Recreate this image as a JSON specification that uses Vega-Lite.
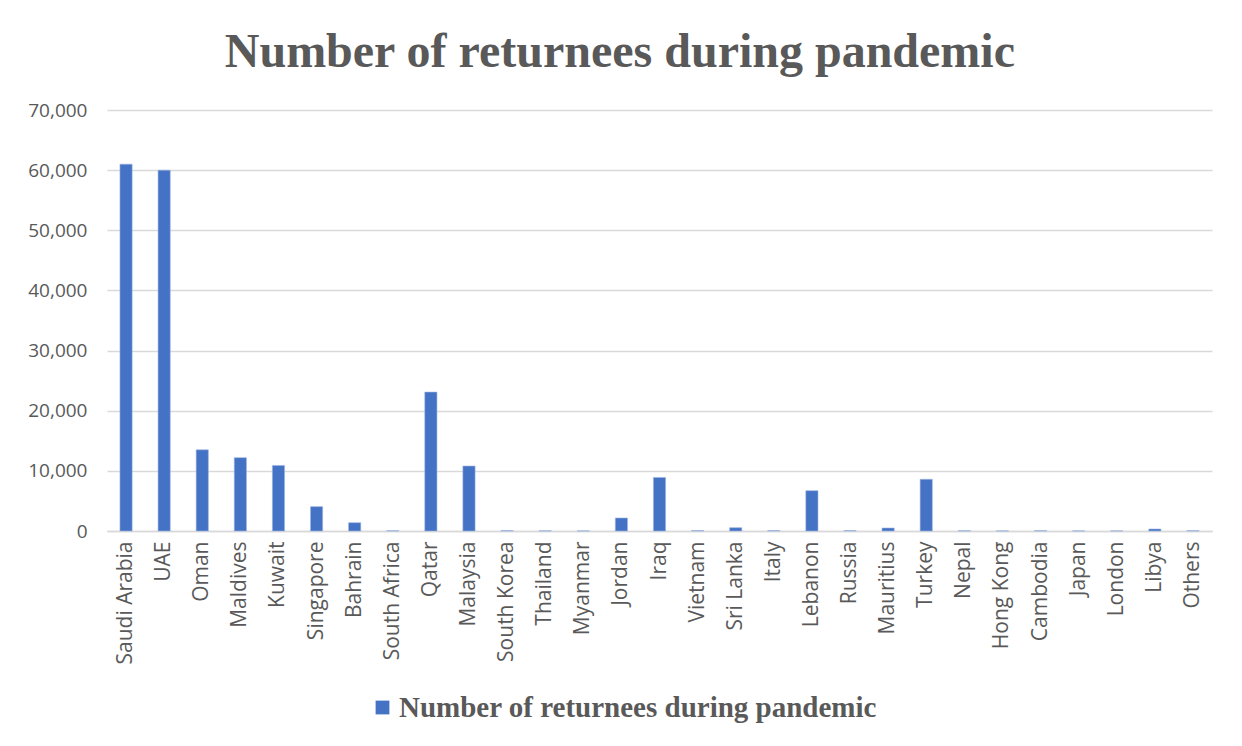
{
  "$schema": "https://vega.github.io/schema/vega-lite/v6.json",
  "width": 1105,
  "height": 421,
  "autosize": "none",
  "padding": {"left": 107, "top": 110, "right": 30, "bottom": 215},
  "background": "white",
  "title": {
    "text": "Number of returnees during pandemic",
    "font": "Liberation Serif",
    "fontSize": 48,
    "fontWeight": "bold",
    "color": "#595959",
    "anchor": "middle",
    "frame": "bounds",
    "offset": 24
  },
  "data": {
    "values": [
      {"country": "Saudi Arabia", "returnees": 61000},
      {"country": "UAE", "returnees": 60000},
      {"country": "Oman", "returnees": 13500},
      {"country": "Maldives", "returnees": 12200},
      {"country": "Kuwait", "returnees": 10900},
      {"country": "Singapore", "returnees": 4050},
      {"country": "Bahrain", "returnees": 1380},
      {"country": "South Africa", "returnees": 40},
      {"country": "Qatar", "returnees": 23100},
      {"country": "Malaysia", "returnees": 10800},
      {"country": "South Korea", "returnees": 60},
      {"country": "Thailand", "returnees": 30},
      {"country": "Myanmar", "returnees": 20},
      {"country": "Jordan", "returnees": 2160},
      {"country": "Iraq", "returnees": 8900},
      {"country": "Vietnam", "returnees": 60},
      {"country": "Sri Lanka", "returnees": 550},
      {"country": "Italy", "returnees": 60},
      {"country": "Lebanon", "returnees": 6700},
      {"country": "Russia", "returnees": 60},
      {"country": "Mauritius", "returnees": 500},
      {"country": "Turkey", "returnees": 8600},
      {"country": "Nepal", "returnees": 40},
      {"country": "Hong Kong", "returnees": 20},
      {"country": "Cambodia", "returnees": 50},
      {"country": "Japan", "returnees": 20},
      {"country": "London", "returnees": 20},
      {"country": "Libya", "returnees": 330},
      {"country": "Others", "returnees": 50}
    ]
  },
  "mark": {"type": "bar", "stroke": "#9DB5E3", "strokeWidth": 0.6},
  "encoding": {
    "x": {
      "field": "country",
      "type": "nominal",
      "sort": null,
      "scale": {"paddingInner": 0.68, "paddingOuter": 0.34},
      "axis": {
        "title": null,
        "labelAngle": -90,
        "labelFont": "Open Sans",
        "labelFontSize": 21,
        "labelColor": "#595959",
        "labelPadding": 10,
        "ticks": false,
        "domainColor": "#d9d9d9",
        "domainWidth": 1.5
      }
    },
    "y": {
      "field": "returnees",
      "type": "quantitative",
      "scale": {"domain": [0, 70000]},
      "axis": {
        "title": null,
        "values": [0, 10000, 20000, 30000, 40000, 50000, 60000, 70000],
        "format": ",d",
        "labelFont": "Open Sans",
        "labelFontSize": 19,
        "labelColor": "#595959",
        "labelPadding": 20,
        "ticks": false,
        "domain": false,
        "gridColor": "#d9d9d9",
        "gridWidth": 1.3
      }
    },
    "color": {
      "datum": "Number of returnees during pandemic",
      "type": "nominal",
      "scale": {"range": ["#4472C4"]},
      "legend": {
        "title": null,
        "orient": "none",
        "legendX": 261,
        "legendY": 583,
        "symbolType": "square",
        "symbolSize": 190,
        "symbolStrokeWidth": 0,
        "labelFont": "Liberation Serif",
        "labelFontSize": 29,
        "labelFontWeight": "bold",
        "labelColor": "#595959",
        "labelOffset": 2,
        "labelLimit": 1000
      }
    }
  },
  "config": {"view": {"stroke": null}}
}
